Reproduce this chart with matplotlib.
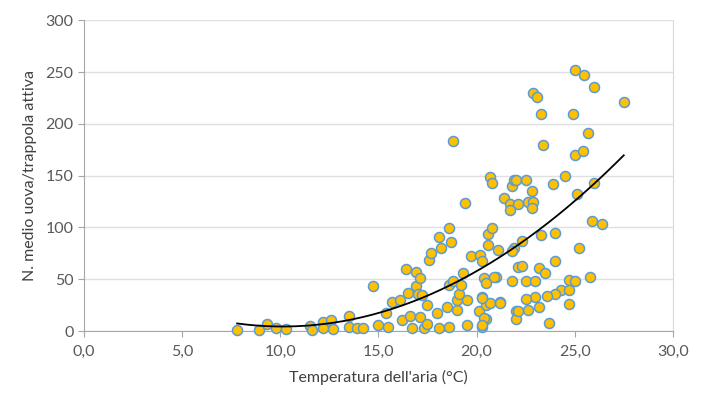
import matplotlib.pyplot as plt
import numpy as np

# temperature (°C) and mean number of eggs per active trap
temp = [7.8, 8.9, 9.3, 9.8, 10.3, 11.5, 11.6, 12.2, 12.6, 12.7, 12.2, 13.5, 13.5, 13.9, 14.2,
        14.7, 15.0, 15.5, 15.4, 15.7, 16.1, 16.2, 16.4, 16.5, 16.6, 16.7, 16.9, 16.9, 17.1, 17.0,
        17.1, 17.2, 17.3, 17.5, 17.5, 17.6, 17.7, 18.0, 18.1, 18.1, 18.2, 18.5, 18.6, 18.7, 18.6,
        18.6, 18.8, 19.0, 19.0, 19.1, 19.2, 19.3, 19.5, 19.5, 19.7, 19.4, 20.2, 20.1, 20.3, 20.3,
        20.3, 20.4, 20.5, 20.5, 20.5, 20.6, 20.6, 20.8, 20.7, 21.0, 21.1, 21.2, 21.4, 21.7, 21.8,
        22.0, 22.0, 22.1, 21.9, 18.8, 20.7, 20.8, 21.8, 21.9, 25.0, 25.5, 26.0, 27.5, 22.9, 23.1,
        23.3, 24.9, 23.4, 25.7, 25.0, 25.4, 22.0, 22.5, 22.8, 23.9, 24.5, 26.0, 25.1, 22.1, 21.7,
        22.6, 22.9, 22.8, 25.9, 26.4, 24.0, 23.3, 22.3, 21.8, 25.2, 24.0, 22.3, 23.2, 23.5, 25.8,
        20.9, 22.5, 23.0, 24.7, 25.0, 24.3, 24.0, 24.7, 23.6, 23.0, 22.5, 21.2, 23.2, 24.7, 22.6,
        22.1, 23.7, 20.3, 20.4, 20.3]
eggs = [1, 1, 7, 3, 2, 5, 1, 9, 11, 2, 3, 15, 4, 3, 3,
        43, 6, 4, 17, 28, 30, 11, 60, 37, 15, 3, 43, 57, 51, 36,
        14, 35, 3, 25, 7, 69, 75, 17, 91, 3, 80, 23, 99, 86, 4,
        44, 48, 20, 30, 36, 44, 56, 30, 6, 72, 124, 73, 19, 68, 4,
        33, 51, 46, 25, 12, 83, 94, 99, 27, 52, 78, 28, 128, 123, 48,
        19, 12, 62, 80, 183, 149, 143, 140, 146, 252, 247, 236, 221, 230, 226,
        209, 209, 180, 191, 170, 174, 146, 146, 135, 142, 150, 143, 132, 123, 117,
        125, 125, 119, 106, 103, 95, 93, 87, 77, 80, 68, 63, 61, 56, 52,
        52, 48, 48, 49, 48, 40, 36, 40, 34, 33, 31, 27, 23, 26, 20,
        19, 8, 32, 13, 6]

xticks = [0, 5, 10, 15, 20, 25, 30]
yticks = [0, 50, 100, 150, 200, 250, 300]

plt.rcParams['font.family'] = ['Lato', 'DejaVu Sans']

fig = plt.figure(figsize=(7.06, 3.96), dpi=100)
ax = fig.add_axes([0.119, 0.164, 0.834, 0.785])

ax.scatter(temp, eggs, s=52, color='#FFC000', edgecolors='#5B9BD5', linewidths=1.1,
           zorder=3, clip_on=False)

# polynomial (order 2) trend line, like the Excel one
coef = np.polyfit(temp, eggs, 2)
xs = np.linspace(min(temp), max(temp), 200)
ax.plot(xs, np.polyval(coef, xs), color='black', linewidth=1.3, zorder=4)

ax.set_xlim(0, 30)
ax.set_ylim(0, 300)
ax.set_xticks(xticks)
ax.set_xticklabels([('%.1f' % t).replace('.', ',') for t in xticks])
ax.set_yticks(yticks)

ax.grid(axis='y', color='#E0E0E0', linewidth=1)
ax.set_axisbelow(True)
ax.spines['top'].set_visible(False)
ax.spines['right'].set_color('#D9D9D9')
ax.spines['left'].set_color('#A6A6A6')
ax.spines['bottom'].set_color('#A6A6A6')
ax.tick_params(colors='#A6A6A6', labelcolor='#595959', labelsize=11.5, length=4)
ax.tick_params(axis='x', pad=6)

ax.set_xlabel("Temperatura dell'aria (°C)", fontsize=11.5, color='#404040', labelpad=8)
ax.set_ylabel('N. medio uova/trappola attiva', fontsize=11.5, color='#404040', labelpad=6)

fig.savefig('out.png', dpi=100)
